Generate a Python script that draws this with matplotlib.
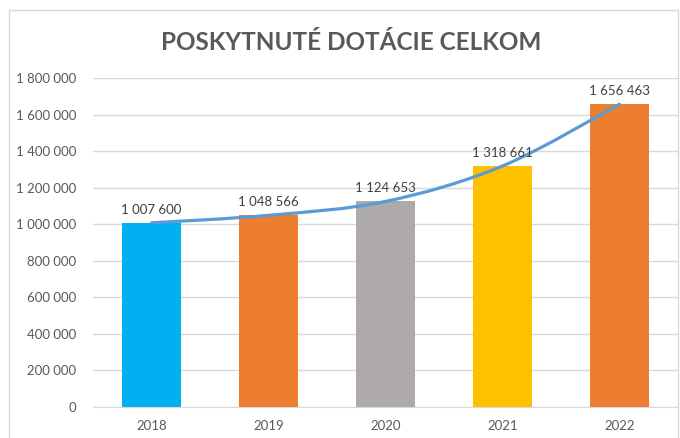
import numpy as np
import matplotlib.pyplot as plt
from matplotlib.path import Path
from matplotlib.patches import PathPatch, Rectangle
from matplotlib.ticker import FuncFormatter

years = ['2018', '2019', '2020', '2021', '2022']
values = [1007600, 1048566, 1124653, 1318661, 1656463]
bar_colors = ['#00B0F0', '#ED7D31', '#AEAAAA', '#FFC000', '#ED7D31']
title = 'POSKYTNUTÉ DOTÁCIE CELKOM'

plt.rcParams['font.family'] = ['Lato', 'DejaVu Sans']

fig = plt.figure(figsize=(6.8, 4.38), dpi=100)
# outer chart frame
fig.patches.append(Rectangle((9 / 680, -0.01), 669 / 680, 1 - 10 / 438 + 0.01,
                             transform=fig.transFigure, fill=False,
                             edgecolor='#D9D9D9', linewidth=1))

ax = fig.add_axes([93 / 680, (438 - 407) / 438, 585 / 680, 329 / 438])
x = np.arange(len(years))
ax.bar(x, values, width=0.5, color=bar_colors, zorder=2)

# smoothed line through bar tops (Excel-like smoothing)
pts = np.column_stack([x, values]).astype(float)
verts = [pts[0]]
codes = [Path.MOVETO]
for i in range(len(pts) - 1):
    p0 = pts[i - 1] if i > 0 else pts[i]
    p1, p2 = pts[i], pts[i + 1]
    p3 = pts[i + 2] if i + 2 < len(pts) else pts[i + 1]
    c1 = p1 + (p2 - p0) / 6
    c2 = p2 - (p3 - p1) / 6
    verts += [c1, c2, p2]
    codes += [Path.CURVE4] * 3
ax.add_patch(PathPatch(Path(verts, codes), fill=False, edgecolor='#5B9BD5',
                       linewidth=2.3, capstyle='round', zorder=3))

for xi, v in zip(x, values):
    ax.text(xi, v + 40000, f'{v:,}'.replace(',', ' '), ha='center', va='bottom',
            fontsize=9.5, color='#404040', zorder=4)

ax.set_xlim(-0.5, len(years) - 0.5)
ax.set_ylim(0, 1800000)
ax.set_yticks(np.arange(0, 1800001, 200000))
ax.yaxis.set_major_formatter(FuncFormatter(lambda v, p: f'{int(v):,}'.replace(',', ' ')))
ax.set_xticks(x, labels=years)
ax.tick_params(length=0, labelsize=9.5, labelcolor='#595959')
ax.tick_params(axis='y', pad=12)
ax.tick_params(axis='x', pad=9)
ax.grid(axis='y', color='#D9D9D9', linewidth=1, zorder=0)
ax.set_axisbelow(True)
for s in ['top', 'right', 'left']:
    ax.spines[s].set_visible(False)
ax.spines['bottom'].set_color('#D9D9D9')

fig.text(351 / 680, 1 - 43 / 438, title, ha='center', va='center',
         fontsize=17.5, fontweight='bold', color='#595959')

fig.savefig('out.png', dpi=100)
